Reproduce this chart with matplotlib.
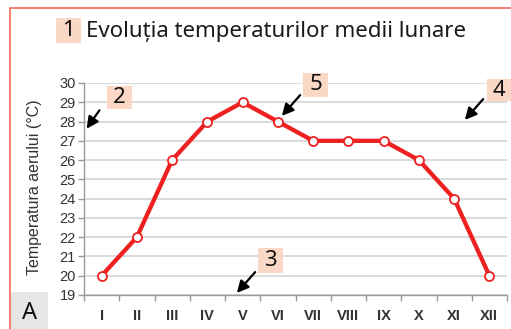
import matplotlib.pyplot as plt
from matplotlib.patches import Rectangle, FancyArrowPatch

months = ["I", "II", "III", "IV", "V", "VI", "VII", "VIII", "IX", "X", "XI", "XII"]
temps = [20, 22, 26, 28, 29, 28, 27, 27, 27, 26, 24, 20]
y_ticks = list(range(19, 31))

W, H = 511, 329
fig = plt.figure(figsize=(W / 100, H / 100), dpi=100)


def fx(px):
    return px / W


def fy(py):
    return 1 - py / H


# salmon frame around the whole panel
fig.patches.append(Rectangle((fx(10), fy(340)), fx(520), fy(8) - fy(340),
                             transform=fig.transFigure, fill=False,
                             edgecolor="#f26b55", linewidth=1.2))

ax = fig.add_axes([fx(84), fy(295), fx(507) - fx(84), fy(83) - fy(295)])
x = list(range(len(months)))
ax.plot(x, temps, color="#ee2020", linewidth=3.1, marker="o", markersize=6.5,
        markerfacecolor="white", markeredgecolor="#ee2020", markeredgewidth=1.3,
        zorder=3, clip_on=False)

ax.set_xlim(-0.5, len(months) - 0.5)
ax.set_ylim(19, 30)
ax.set_yticks(y_ticks)
ax.set_yticklabels([str(v) for v in y_ticks], fontsize=10.5,
                   family="Liberation Sans", color="#333333")
ax.set_xticks(x)
ax.set_xticklabels(months, fontsize=10.5, family="Liberation Sans",
                   fontweight="bold", color="#333333")
ax.set_xticks([i - 0.5 for i in range(len(months) + 1)], minor=True)
ax.tick_params(axis="x", which="major", length=0, pad=10)
ax.tick_params(axis="x", which="minor", length=4, color="#999999", width=1)
ax.tick_params(axis="y", length=4, color="#999999", width=1, pad=2)
ax.grid(axis="y", color="#d8d8d8", linewidth=1.3)
ax.set_axisbelow(True)
for s in ["top", "right"]:
    ax.spines[s].set_visible(False)
ax.spines["left"].set_color("#999999")
ax.spines["bottom"].set_color("#999999")
ax.spines["left"].set_linewidth(1)
ax.spines["bottom"].set_linewidth(1)

fig.text(fx(35), fy(187), "Temperatura aerului (°C)", rotation=90,
         ha="center", va="center", fontsize=11.5, family="Liberation Sans",
         color="#333333")

# title with numbered badge
fig.text(fx(86), fy(31), "Evoluția temperaturilor medii lunare", ha="left",
         va="center", fontsize=16, family="Noto Sans", color="#1a1a1a")


def badge(x0, y0, w, h, label):
    fig.patches.append(Rectangle((fx(x0), fy(y0 + h)), fx(w), fy(0) - fy(h),
                                 transform=fig.transFigure,
                                 facecolor="#fbd8c6", edgecolor="none"))
    fig.text(fx(x0 + w / 2), fy(y0 + h / 2), label, ha="center",
             va="center", fontsize=16, family="Noto Sans", fontweight="medium",
             color="#111111")


def arrow(x0, y0, x1, y1):
    fig.add_artist(FancyArrowPatch(
        (fx(x0), fy(y0)), (fx(x1), fy(y1)), transform=fig.transFigure,
        arrowstyle="-|>,head_length=7,head_width=3.5", color="black",
        linewidth=1.6))


badge(56, 18, 25, 25, "1")
badge(107, 86, 25, 23, "2")
arrow(101, 108, 85, 131)
badge(303, 73, 25, 24, "5")
arrow(302, 93, 280, 118)
badge(487, 79, 24, 22, "4")
arrow(485, 97, 463, 122)
badge(258, 248, 25, 25, "3")
arrow(257, 270, 235, 295)

# panel letter
fig.patches.append(Rectangle((fx(11), fy(329)), fx(37), fy(0) - fy(37),
                             transform=fig.transFigure,
                             facecolor="#e6e6e6", edgecolor="none"))
fig.text(fx(29.5), fy(313), "A", ha="center", va="center", fontsize=17,
         family="Noto Sans", color="#111111")

fig.savefig("out.png", dpi=100)
